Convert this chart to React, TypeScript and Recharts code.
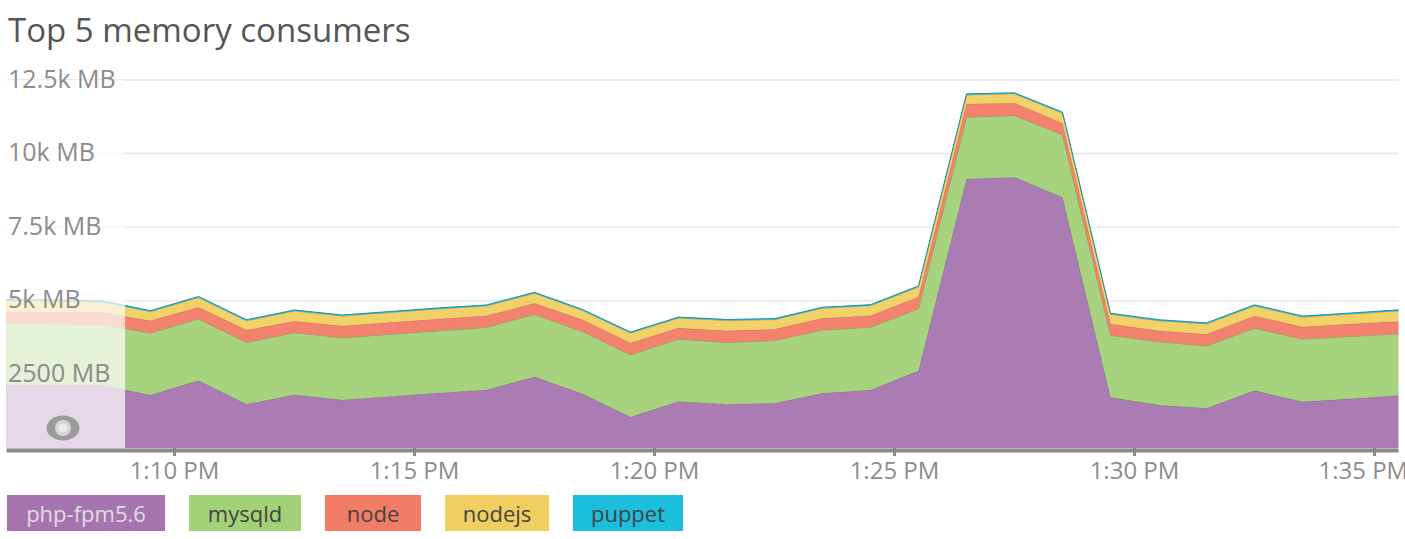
import {Area, AreaChart, CartesianGrid, ReferenceArea, XAxis, YAxis} from "recharts";

// minutes past 1:00 PM, one sample per minute
const minutes = [6.5, 7.5, 8.5, 9.5, 10.5, 11.5, 12.5, 13.5, 14.5, 15.5, 16.5, 17.5, 18.5, 19.5, 20.5,
    21.5, 22.5, 23.5, 24.5, 25.5, 26.5, 27.5, 28.5, 29.5, 30.5, 31.5, 32.5, 33.5, 34.5, 35.5];

const phpFpm = [2140, 2140, 2130, 1800, 2290, 1490, 1810, 1630, 1750, 1870, 1970, 2420, 1840, 1050, 1580,
    1490, 1520, 1860, 1970, 2620, 9140, 9200, 8520, 1720, 1460, 1350, 1950, 1570, 1670, 1780];
const mysqld = [2090, 2080, 2070, 2106, 2096, 2093, 2106, 2116, 2112, 2109, 2130, 2120, 2117, 2116, 2119,
    2093, 2127, 2150, 2130, 2110, 2096, 2092, 2117, 2110, 2150, 2117, 2118, 2130, 2120, 2095];
const node = [400, 400, 400, 418, 397, 421, 387, 397, 401, 404, 394, 374, 397, 398, 373,
    397, 387, 398, 394, 400, 452, 421, 396, 380, 374, 397, 419, 407, 420, 418];
const nodejs = [370, 370, 360, 306, 327, 316, 350, 340, 340, 340, 330, 339, 316, 339, 340,
    350, 326, 339, 340, 340, 306, 317, 340, 330, 339, 350, 340, 340, 340, 364];
const puppet = [40, 40, 40, 35, 35, 35, 35, 35, 35, 35, 35, 35, 35, 35, 35,
    35, 35, 35, 35, 35, 35, 35, 35, 35, 35, 35, 35, 35, 35, 35];

const xTicks = [10, 15, 20, 25, 30, 35];
const xTickLabels = ["1:10 PM", "1:15 PM", "1:20 PM", "1:25 PM", "1:30 PM", "1:35 PM"];
const yTicks = [2500, 5000, 7500, 10000, 12500];
const yTickLabels = ["2500 MB", "5k MB", "7.5k MB", "10k MB", "12.5k MB"];

const series = [
    {key: "php-fpm5.6", values: phpFpm, fill: "#a675b0", stroke: "#8a6f90", text: "#dedede", left: 7, width: 158},
    {key: "mysqld", values: mysqld, fill: "#a3d177", stroke: "#82a56a", text: "#444", left: 189, width: 112},
    {key: "node", values: node, fill: "#f27c66", stroke: "#c86e5e", text: "#444", left: 325, width: 96},
    {key: "nodejs", values: nodejs, fill: "#f0cf60", stroke: "#c2a85a", text: "#444", left: 445, width: 104},
    {key: "puppet", values: puppet, fill: "#1bbfdb", stroke: "#1c8db0", text: "#444", left: 573, width: 110},
];

const data = minutes.map((t, i) => {
    const row: Record<string, number> = {t};
    series.forEach(s => { row[s.key] = s.values[i]; });
    return row;
});

const font = "'Open Sans', sans-serif";

const renderYTick = (props: any) => (
    <text key={props.index} x={8} y={props.y + 7.5} fill="#8c8c8c" fontSize={25} fontFamily={font}>
        {yTickLabels[yTicks.indexOf(props.payload.value)]}
    </text>
);

const Shade = ({x, y, width, height}: any) => (
    <g>
        <rect x={x} y={y} width={width} height={height} fill="#fff" fillOpacity={0.7}/>
        <ellipse cx={63} cy={428} rx={16.5} ry={12.5} fill="#9b9b9b"/>
        <circle cx={63} cy={428} r={8} fill="#d6d6d6"/>
        <circle cx={63} cy={428} r={4.5} fill="#ebebeb"/>
    </g>
);

export default function App() {
    return (
        <div style={{position: "absolute", left: 0, top: 0, width: 1405, height: 539, background: "#fff"}}>
            <div style={{position: "absolute", left: 8, top: 13, fontFamily: font, fontSize: 33, lineHeight: "34px", color: "#555"}}>
                Top 5 memory consumers
            </div>
            <AreaChart width={1405} height={490} data={data} margin={{top: 80, right: 6.5, left: 6.5, bottom: 0}}>
                <CartesianGrid vertical={false} stroke="#ebebeb" strokeWidth={2}/>
                <XAxis type="number" dataKey="t" domain={[6.5, 35.5]} ticks={xTicks} height={42}
                       tickFormatter={(v) => xTickLabels[xTicks.indexOf(v)]}
                       axisLine={{stroke: "#8a8a8a", strokeWidth: 4, transform: "translate(0,2.5)"}}
                       tickLine={{stroke: "#8a8a8a", strokeWidth: 3}} tickSize={8} tickMargin={6}
                       tick={{fill: "#8c8c8c", fontSize: 24, fontFamily: font}}/>
                {series.map(s => (
                    <Area key={s.key} type="linear" dataKey={s.key} stackId="mem" fill={s.fill} fillOpacity={0.95}
                          stroke={s.stroke} strokeWidth={1} isAnimationActive={false}/>
                ))}
                <ReferenceArea x1={6.5} x2={8.97} y1={0} y2={12500} shape={<Shade/>}/>
                <YAxis mirror width={118} domain={[0, 12500]} ticks={yTicks} interval={0}
                       axisLine={false} tickLine={false} tick={renderYTick}/>
            </AreaChart>
            {series.map(s => (
                <div key={s.key} style={{
                    position: "absolute", left: s.left, top: 495, width: s.width, height: 36,
                    background: s.fill, color: s.text, fontFamily: font, fontSize: 22, lineHeight: "36px", textAlign: "center"
                }}>{s.key}</div>
            ))}
        </div>
    );
}
